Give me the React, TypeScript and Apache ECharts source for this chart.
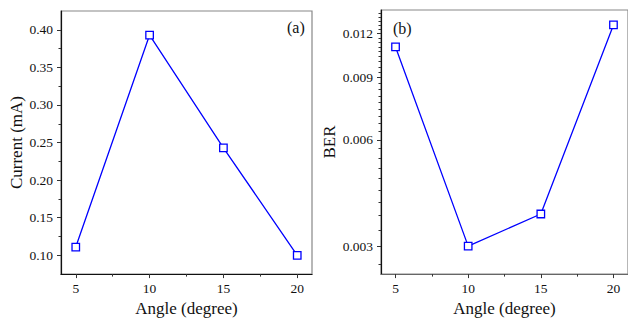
import React, { useEffect, useRef } from "react";
import * as echarts from "echarts";

const angles = [5, 10, 15, 20];
const currentMA = [0.111, 0.393, 0.243, 0.1];
const ber = [0.011, 0.003, 0.0037, 0.0127];

const xTicks = [5, 10, 15, 20];
const xMinorTicks = [7.5, 12.5, 17.5];
const currentTicks = [0.1, 0.15, 0.2, 0.25, 0.3, 0.35, 0.4];
const currentMinorTicks = [0.125, 0.175, 0.225, 0.275, 0.325, 0.375];
const berTicks = [0.003, 0.006, 0.009, 0.012];
const berMinorTicks = [
  0.0026667, 0.0033333, 0.0036667, 0.004, 0.0043333, 0.0046667, 0.005, 0.0053333, 0.0056667,
  0.0063333, 0.0066667, 0.007, 0.0073333, 0.0076667, 0.008, 0.0083333, 0.0086667,
  0.0093333, 0.0096667, 0.01, 0.0103333, 0.0106667, 0.011, 0.0113333, 0.0116667,
  0.0123333, 0.0126667, 0.013, 0.0133333, 0.0136667,
];

const FONT = "Liberation Serif";
const BLUE = "#0000ff";
const TEXT = "#111";

const tickLabelStyle = { fontFamily: FONT, fontSize: 13.5, color: TEXT };

function mainX(gridIndex: number, lineColor: string) {
  return {
    type: "value",
    gridIndex,
    position: "bottom",
    min: 4,
    max: 21,
    name: "Angle (degree)",
    nameLocation: "middle",
    nameGap: 23,
    nameTextStyle: { fontFamily: FONT, fontSize: 17, color: TEXT },
    axisLine: { show: true, lineStyle: { color: lineColor, width: 1.2 } },
    axisTick: { show: true, inside: false, length: 4, customValues: xTicks, lineStyle: { color: "#333" } },
    axisLabel: { show: true, margin: 7, customValues: xTicks, ...tickLabelStyle },
    splitLine: { show: false },
  };
}

function minorX(gridIndex: number) {
  return {
    type: "value",
    gridIndex,
    position: "bottom",
    min: 4,
    max: 21,
    axisLine: { show: false },
    axisTick: { show: true, inside: false, length: 2.5, customValues: xMinorTicks, lineStyle: { color: "#333" } },
    axisLabel: { show: false },
    splitLine: { show: false },
  };
}

export default function App() {
  const ref = useRef<HTMLDivElement>(null);
  useEffect(() => {
    if (!ref.current) return;
    const chart = echarts.init(ref.current, null, { renderer: "svg" });
    const option: any = {
      animation: false,
      backgroundColor: "#ffffff",
      textStyle: { fontFamily: FONT },
      grid: [
        { left: 61, top: 11, width: 251, height: 266, show: true, borderColor: "#888", borderWidth: 1.2, backgroundColor: "transparent" },
        { left: 381, top: 10, width: 250, height: 266, show: true, borderColor: "#888", borderWidth: 1.2, backgroundColor: "transparent" },
      ],
      xAxis: [mainX(0, "#111"), minorX(0), mainX(1, "#666"), minorX(1)],
      yAxis: [
        {
          type: "value",
          gridIndex: 0,
          position: "left",
          min: 0.075,
          max: 0.425,
          name: "Current (mA)",
          nameLocation: "middle",
          nameGap: 35,
          nameTextStyle: { fontFamily: FONT, fontSize: 17, color: TEXT },
          axisLine: { show: true, lineStyle: { color: "#111", width: 1.2 } },
          axisTick: { show: true, inside: false, length: 4, customValues: currentTicks, lineStyle: { color: "#333" } },
          axisLabel: {
            show: true,
            margin: 8,
            customValues: currentTicks,
            formatter: (v: number) => Number(v).toFixed(2),
            ...tickLabelStyle,
          },
          splitLine: { show: false },
        },
        {
          type: "value",
          gridIndex: 0,
          position: "left",
          min: 0.075,
          max: 0.425,
          axisLine: { show: false },
          axisTick: { show: true, inside: false, length: 2.5, customValues: currentMinorTicks, lineStyle: { color: "#333" } },
          axisLabel: { show: false },
          splitLine: { show: false },
        },
        {
          type: "log",
          gridIndex: 1,
          position: "left",
          min: 0.0025,
          max: 0.014,
          name: "BER",
          nameLocation: "middle",
          nameGap: 43,
          nameTextStyle: { fontFamily: FONT, fontSize: 17, color: TEXT },
          axisLine: { show: true, lineStyle: { color: "#111", width: 1.2 } },
          axisTick: { show: true, inside: false, length: 4, customValues: berTicks, lineStyle: { color: "#333" } },
          axisLabel: {
            show: true,
            margin: 8,
            customValues: berTicks,
            formatter: (v: number) => Number(v).toFixed(3),
            ...tickLabelStyle,
          },
          splitLine: { show: false },
        },
        {
          type: "log",
          gridIndex: 1,
          position: "left",
          min: 0.0025,
          max: 0.014,
          axisLine: { show: false },
          axisTick: { show: true, inside: false, length: 2.5, customValues: berMinorTicks, lineStyle: { color: "#333" } },
          axisLabel: { show: false },
          splitLine: { show: false },
        },
      ],
      series: [
        {
          type: "line",
          xAxisIndex: 0,
          yAxisIndex: 0,
          data: angles.map((a, i) => [a, currentMA[i]]),
          symbol: "rect",
          symbolSize: 7.5,
          lineStyle: { color: BLUE, width: 1.3 },
          itemStyle: { color: "#ffffff", borderColor: BLUE, borderWidth: 1.3 },
        },
        {
          type: "line",
          xAxisIndex: 2,
          yAxisIndex: 2,
          data: angles.map((a, i) => [a, ber[i]]),
          symbol: "rect",
          symbolSize: 7.5,
          lineStyle: { color: BLUE, width: 1.3 },
          itemStyle: { color: "#ffffff", borderColor: BLUE, borderWidth: 1.3 },
        },
      ],
      graphic: [
        { type: "text", left: 287, top: 19, style: { text: "(a)", fontFamily: FONT, fontSize: 16, fill: TEXT } },
        { type: "text", left: 393, top: 20, style: { text: "(b)", fontFamily: FONT, fontSize: 16, fill: TEXT } },
      ],
    };
    chart.setOption(option);
    return () => chart.dispose();
  }, []);
  return <div ref={ref} style={{ position: "absolute", left: 0, top: 0, width: 628, height: 322 }} />;
}
